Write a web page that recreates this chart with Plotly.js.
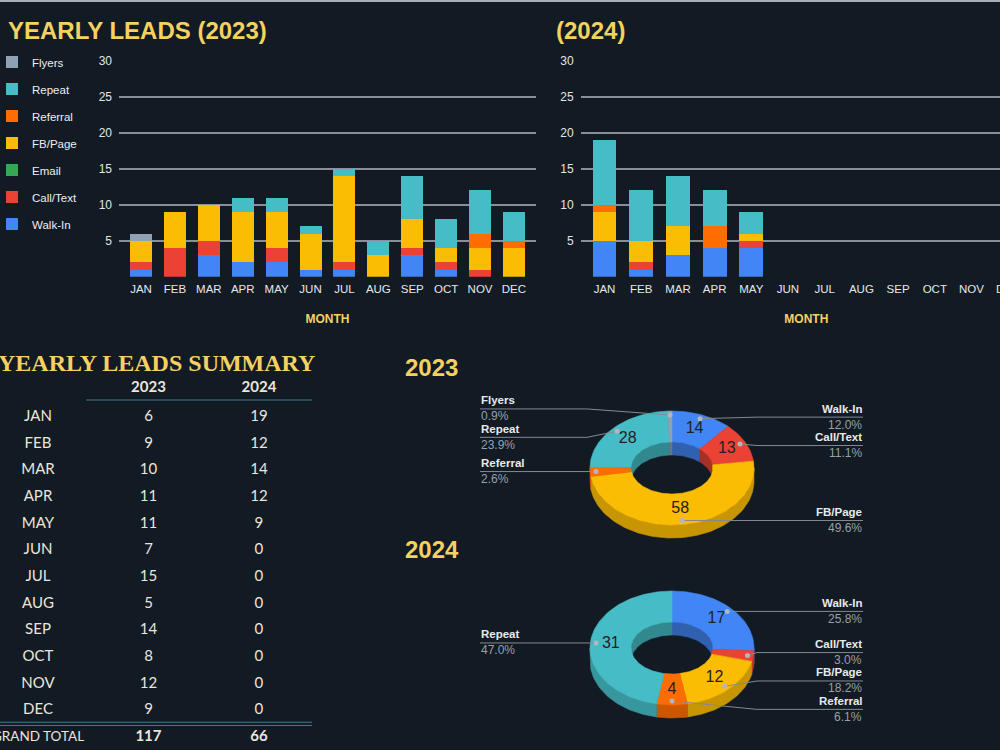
<!DOCTYPE html>
<html><head><meta charset="utf-8">
<script src="https://cdn.plot.ly/plotly-3.0.1.min.js"></script>
<style>
html,body{margin:0;padding:0;background:#121a24;overflow:hidden;width:1000px;height:750px}
#chart{width:1040px;height:750px}
</style>
</head><body><div id="chart"></div>
<script>
// ---------- DATA ----------
const months = ['JAN','FEB','MAR','APR','MAY','JUN','JUL','AUG','SEP','OCT','NOV','DEC'];
const sources = ['Walk-In','Call/Text','Email','FB/Page','Referral','Repeat','Flyers'];

const walkIn2023   = [1,0,3,2,2,1,1,0,3,1,0,0];
const callText2023 = [1,4,2,0,2,0,1,0,1,1,1,0];
const email2023    = [0,0,0,0,0,0,0,0,0,0,0,0];
const fbPage2023   = [3,5,5,7,5,5,12,3,4,2,3,4];
const referral2023 = [0,0,0,0,0,0,0,0,0,0,2,1];
const repeat2023   = [0,0,0,2,2,1,1,2,6,4,6,4];
const flyers2023   = [1,0,0,0,0,0,0,0,0,0,0,0];

const walkIn2024   = [5,1,3,4,4,0,0,0,0,0,0,0];
const callText2024 = [0,1,0,0,1,0,0,0,0,0,0,0];
const email2024    = [0,0,0,0,0,0,0,0,0,0,0,0];
const fbPage2024   = [4,3,4,0,1,0,0,0,0,0,0,0];
const referral2024 = [1,0,0,3,0,0,0,0,0,0,0,0];
const repeat2024   = [9,7,7,5,3,0,0,0,0,0,0,0];
const flyers2024   = [0,0,0,0,0,0,0,0,0,0,0,0];

const series2023 = [walkIn2023, callText2023, email2023, fbPage2023, referral2023, repeat2023, flyers2023];
const series2024 = [walkIn2024, callText2024, email2024, fbPage2024, referral2024, repeat2024, flyers2024];

// ---------- STYLE ----------
const colors = ['#4285f4','#ea4335','#34a853','#fbbc04','#ff6d01','#46bdc6','#8ea2b4'];
const BG = '#121a24', GOLD = '#f4d160', TXT = '#e3e5e8', CREAM = '#ece6da';
const SANS = 'Liberation Sans, Arial, sans-serif';
const TFONT = 'Lato, Open Sans, sans-serif';
const W = 1040, H = 750;
const X = v => v / W, Y = v => 1 - v / H;

const sum = a => a.reduce((s, v) => s + v, 0);
const data = [];

// ---------- BAR CHARTS ----------
sources.forEach((name, i) => {
  data.push({type:'bar', name, x: months, y: series2023[i], xaxis:'x', yaxis:'y',
    marker:{color: colors[i]}, width: 0.65, legendgroup: name, legendrank: sources.length - i,
    hoverinfo:'x+y+name'});
});
sources.forEach((name, i) => {
  data.push({type:'bar', name, x: months, y: series2024[i], xaxis:'x2', yaxis:'y2',
    marker:{color: colors[i]}, width: 0.65, legendgroup: name, legendrank: sources.length - i,
    showlegend:false, hoverinfo:'x+y+name'});
});

// ---------- TABLE ----------
const total2023 = months.map((m, k) => sum(series2023.map(s => s[k])));
const total2024 = months.map((m, k) => sum(series2024.map(s => s[k])));
const rowCats = months.concat(['GRAND TOTAL']);
const tcell = {type:'scatter', mode:'text', xaxis:'x4', yaxis:'y4', hoverinfo:'skip', showlegend:false, cliponaxis:false};
data.push(Object.assign({}, tcell, {x: months.map(() => 'MONTH'), y: months, text: months,
  textfont:{family:TFONT, size:15, color:CREAM}}));
data.push(Object.assign({}, tcell, {x: months.map(() => '2023'), y: months, text: total2023.map(String),
  textfont:{family:TFONT, size:15, color:CREAM}}));
data.push(Object.assign({}, tcell, {x: months.map(() => '2024'), y: months, text: total2024.map(String),
  textfont:{family:TFONT, size:15, color:CREAM}}));
data.push(Object.assign({}, tcell, {x: ['MONTH'], y: ['GRAND TOTAL'], text: ['GRAND TOTAL'],
  textfont:{family:TFONT, size:13.5, color:CREAM}}));
data.push(Object.assign({}, tcell, {x: ['2023','2024'], y: ['GRAND TOTAL','GRAND TOTAL'],
  text: [String(sum(total2023)), String(sum(total2024))],
  textfont:{family:TFONT, size:15, color:CREAM, weight:'bold'}}));

// ---------- 3D DONUTS ----------
const CX = 672, RX = 82, RY = 57, RIX = 41, RIY = 26, DEPTH = 13;
const LEFT_X = 480, RIGHT_X = 863, GAP = 28.4;
const annotations = [];

function shade(hex, f) {
  const n = parseInt(hex.slice(1), 16);
  const r = Math.round(((n >> 16) & 255) * f), g = Math.round(((n >> 8) & 255) * f), b = Math.round((n & 255) * f);
  return `rgb(${r},${g},${b})`;
}

function spread(items) {
  items.sort((a, b) => a.dy - b.dy);
  const clusters = items.map(it => ({m:[it]}));
  const place = c => { const mean = sum(c.m.map(it => it.dy)) / c.m.length; c.top = mean - (c.m.length - 1) * GAP / 2; };
  clusters.forEach(place);
  let changed = true;
  while (changed) {
    changed = false;
    for (let k = 0; k < clusters.length - 1; k++) {
      const a = clusters[k], b = clusters[k + 1];
      if (b.top - (a.top + (a.m.length - 1) * GAP) < GAP) {
        a.m = a.m.concat(b.m); clusters.splice(k + 1, 1); place(a); changed = true; break;
      }
    }
  }
  clusters.forEach(c => c.m.forEach((it, j) => { it.ly = c.top + j * GAP; }));
}

function buildDonut(vals, cy) {
  const total = sum(vals);
  const rad = a => a * Math.PI / 180;
  const P = (a, rx, ry, dy) => [CX + rx * Math.sin(rad(a)), cy - ry * Math.cos(rad(a)) + (dy || 0)];
  const arc = (a0, a1, rx, ry, dy) => {
    const n = Math.max(2, Math.ceil((a1 - a0) / 1.5)), o = [];
    for (let k = 0; k <= n; k++) o.push(P(a0 + (a1 - a0) * k / n, rx, ry, dy));
    return o;
  };
  const poly = (pts, color) => ({type:'scatter', xaxis:'x3', yaxis:'y3',
    x: pts.map(p => p[0]).concat([pts[0][0]]), y: pts.map(p => p[1]).concat([pts[0][1]]),
    mode:'lines', fill:'toself', fillcolor: color, line:{color: color, width: 0.6},
    hoverinfo:'skip', showlegend:false});
  let cum = 0; const slices = [];
  vals.forEach((v, i) => { if (v > 0) { const a0 = cum / total * 360; cum += v; slices.push({i, v, a0, a1: cum / total * 360}); } });
  // outer front walls
  slices.forEach(s => {
    const lo = Math.max(s.a0, 90), hi = Math.min(s.a1, 270);
    if (hi > lo) data.push(poly(arc(lo, hi, RX, RY, 0).concat(arc(lo, hi, RX, RY, DEPTH).reverse()), shade(colors[s.i], 0.8)));
  });
  // inner back walls
  slices.forEach(s => {
    [[0, 90], [270, 360]].forEach(([r0, r1]) => {
      const lo = Math.max(s.a0, r0), hi = Math.min(s.a1, r1);
      if (hi > lo) data.push(poly(arc(lo, hi, RIX, RIY, 0).concat(arc(lo, hi, RIX, RIY, DEPTH).reverse()), shade(colors[s.i], 0.72)));
    });
  });
  // top faces
  slices.forEach(s => data.push(poly(arc(s.a0, s.a1, RX, RY, 0).concat(arc(s.a0, s.a1, RIX, RIY, 0).reverse()), colors[s.i])));
  // values inside slices
  const shown = slices.filter(s => s.v / total >= 0.05);
  const mids = shown.map(s => P((s.a0 + s.a1) / 2, (RX + RIX) / 2, (RY + RIY) / 2));
  data.push({type:'scatter', mode:'text', xaxis:'x3', yaxis:'y3', x: mids.map(p => p[0]), y: mids.map(p => p[1]),
    text: shown.map(s => String(s.v)), textfont:{family:SANS, size:16, color:'#202124'}, hoverinfo:'skip', showlegend:false});
  // leader labels
  const items = slices.map(s => {
    const a = (s.a0 + s.a1) / 2, d = P(a, RX * 0.93, RY * 0.93);
    return {s, dx: d[0], dy: d[1], right: Math.sin(rad(a)) >= -1e-9};
  });
  spread(items.filter(it => it.right));
  spread(items.filter(it => !it.right));
  items.forEach(it => {
    const bx = it.right ? CX + RX + 3 : CX - RX - 3, ex = it.right ? RIGHT_X : LEFT_X;
    data.push({type:'scatter', mode:'lines', xaxis:'x3', yaxis:'y3', x:[it.dx, bx, ex], y:[it.dy, it.ly, it.ly],
      line:{color:'#858a91', width:1}, hoverinfo:'skip', showlegend:false});
    data.push({type:'scatter', mode:'markers', xaxis:'x3', yaxis:'y3', x:[it.dx], y:[it.dy],
      marker:{size:5, color:'#b3b7bc'}, hoverinfo:'skip', showlegend:false});
    const anchor = it.right ? 'right' : 'left';
    annotations.push({xref:'x3', yref:'y3', x: ex, y: it.ly - 8.5, xanchor: anchor, yanchor:'middle', showarrow:false,
      text: sources[it.s.i], font:{family:SANS, size:11.5, color:'#e8eaed', weight:'bold'}, borderpad:0});
    annotations.push({xref:'x3', yref:'y3', x: ex, y: it.ly + 7.5, xanchor: anchor, yanchor:'middle', showarrow:false,
      text: (it.s.v / total * 100).toFixed(1) + '%', font:{family:SANS, size:12, color:'#9aa0a6'}, borderpad:0});
  });
}
buildDonut(series2023.map(sum), 468);
buildDonut(series2024.map(sum), 648);

// ---------- TITLES ----------
const ttl = (text, x, y, anchor, font) => annotations.push({xref:'x3', yref:'y3', x, y, xanchor: anchor, yanchor:'middle',
  showarrow:false, text, font, borderpad:0});
ttl('YEARLY LEADS (2023)', 7, 30, 'left', {family:SANS, size:24, color:GOLD, weight:'bold'});
ttl('(2024)', 555, 30, 'left', {family:SANS, size:24, color:GOLD, weight:'bold'});
ttl('YEARLY LEADS SUMMARY', 316, 363, 'right', {family:'Liberation Serif, serif', size:24, color:GOLD, weight:'bold'});
ttl('2023', 404, 367.5, 'left', {family:SANS, size:24, color:GOLD, weight:'bold'});
ttl('2024', 404, 549, 'left', {family:SANS, size:24, color:GOLD, weight:'bold'});

// ---------- LAYOUT ----------
const barY = {range:[0, 30], tickvals:[5,10,15,20,25,30], gridcolor:'#8a9098', gridwidth:2, zeroline:false,
  showline:false, ticks:'', tickfont:{family:SANS, size:12, color:'#e2e4e7'}, ticklabelstandoff:6, fixedrange:true};
const barX = {type:'category', categoryarray: months, range:[-0.65, 11.65], showgrid:false, zeroline:false, showline:false,
  ticks:'', tickfont:{family:SANS, size:11.5, color:'#e6e8eb'}, ticklabelstandoff:4,
  title:{text:'MONTH', font:{family:SANS, size:12, color:GOLD, weight:'bold'}, standoff:20}, fixedrange:true};

const layout = {
  width: W, height: H, margin:{l:0, r:0, t:0, b:0, autoexpand:false},
  paper_bgcolor: BG, plot_bgcolor:'rgba(0,0,0,0)',
  barmode:'stack', font:{family:SANS, color:TXT},
  showlegend:true,
  legend:{x:X(-8), y:Y(47.5), xanchor:'left', yanchor:'top', bgcolor:'rgba(0,0,0,0)', traceorder:'grouped',
    tracegroupgap:8, itemwidth:30, font:{family:SANS, size:11.5, color:'#eceef0'}},
  xaxis: Object.assign({}, barX, {domain:[X(119), X(536)], anchor:'y'}),
  yaxis: Object.assign({}, barY, {domain:[Y(276.7), Y(60.7)], anchor:'x'}),
  xaxis2: Object.assign({}, barX, {domain:[X(580.7), X(1032)], anchor:'y2'}),
  yaxis2: Object.assign({}, barY, {domain:[Y(276.7), Y(60.7)], anchor:'x2'}),
  xaxis3: {domain:[0, 1], range:[0, W], visible:false, anchor:'y3', fixedrange:true},
  yaxis3: {domain:[0, 1], range:[H, 0], visible:false, anchor:'x3', fixedrange:true},
  xaxis4: {domain:[0, X(312)], anchor:'y4', type:'category', categoryarray:['MONTH','2023','2024'],
    range:[-0.344, 2.48], side:'top', tickvals:['2023','2024'], ticktext:['2023','2024'], showgrid:false,
    zeroline:false, showline:false, ticks:'', ticklabelstandoff:8,
    tickfont:{family:TFONT, size:15, color:CREAM, weight:'bold'}, fixedrange:true},
  yaxis4: {domain:[0, Y(404)], anchor:'x4', type:'category', categoryarray: rowCats,
    range:[12.48, -0.5], visible:false, fixedrange:true},
  shapes: [
    {type:'rect', xref:'paper', yref:'paper', x0:0, x1:1, y0:Y(2), y1:1, fillcolor:'#a9aeb4', line:{width:0}},
    {type:'line', xref:'paper', yref:'paper', x0:X(86), x1:X(312), y0:Y(400), y1:Y(400), line:{color:'#4b7888', width:1}},
    {type:'line', xref:'paper', yref:'y4', x0:0, x1:X(312), y0:11.44, y1:11.44, line:{color:'#4b7888', width:1}},
    {type:'line', xref:'paper', yref:'y4', x0:0, x1:X(312), y0:11.56, y1:11.56, line:{color:'#4b7888', width:1}}
  ],
  annotations
};

Plotly.newPlot('chart', data, layout, {staticPlot:true, displayModeBar:false});
</script>
</body></html>
